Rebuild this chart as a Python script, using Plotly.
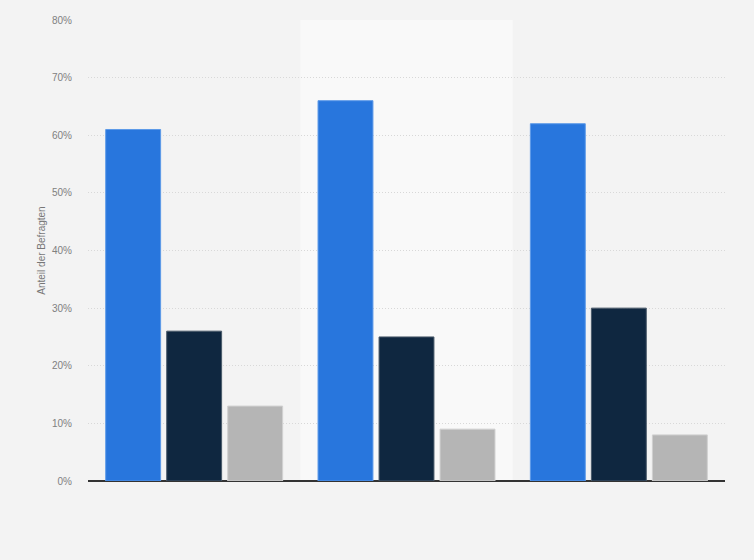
import plotly.graph_objects as go

# categories (labels are not shown in the reference)
categories = ['Gruppe 1', 'Gruppe 2', 'Gruppe 3']
series_names = ['Antwort A', 'Antwort B', 'Antwort C']
series_values = [
    [61, 66, 62],
    [26, 25, 30],
    [13, 9, 8],
]
colors = ['#2876dd', '#0f2740', '#b5b5b5']
edges = ['#5d9ae8', '#4a5a6a', '#d0d0d0']

tick_vals = [0, 10, 20, 30, 40, 50, 60, 70, 80]
tick_text = ['0%', '10%', '20%', '30%', '40%', '50%', '60%', '70%', '80%']

fig = go.Figure()
for name, vals, c, e in zip(series_names, series_values, colors, edges):
    fig.add_trace(go.Bar(x=categories, y=vals, name=name,
                         marker=dict(color=c, line=dict(color=e, width=1))))

# highlighted middle category band
fig.add_shape(type='rect', xref='x', yref='paper', x0=0.5, x1=1.5, y0=0, y1=1,
              fillcolor='#f9f9f9', line=dict(width=0), layer='below')

fig.update_layout(
    width=754, height=560,
    paper_bgcolor='#f3f3f3', plot_bgcolor='#f3f3f3',
    margin=dict(l=88, r=29, t=20, b=79),
    barmode='group', bargap=0.138, bargroupgap=0.1,
    showlegend=False,
    font=dict(family='Arial, Liberation Sans, sans-serif', color='#777777', size=10),
)
fig.update_xaxes(showticklabels=False, showgrid=False, showline=False, zeroline=False,
                 ticks='')
fig.update_yaxes(range=[0, 80], tickvals=tick_vals, ticktext=tick_text,
                 showgrid=True, gridcolor='#d8d8d8', griddash='1px,2px', gridwidth=1,
                 zeroline=True, zerolinecolor='#333333', zerolinewidth=1.5,
                 showline=False, ticks='', ticklabelstandoff=15,
                 tickfont=dict(size=10, color='#808080'),
                 title=dict(text='Anteil der Befragten', font=dict(size=10, color='#777777'),
                            standoff=4))

fig.write_html("out.html", config={'displayModeBar': False},
               post_script="document.body.style.margin='0';")
